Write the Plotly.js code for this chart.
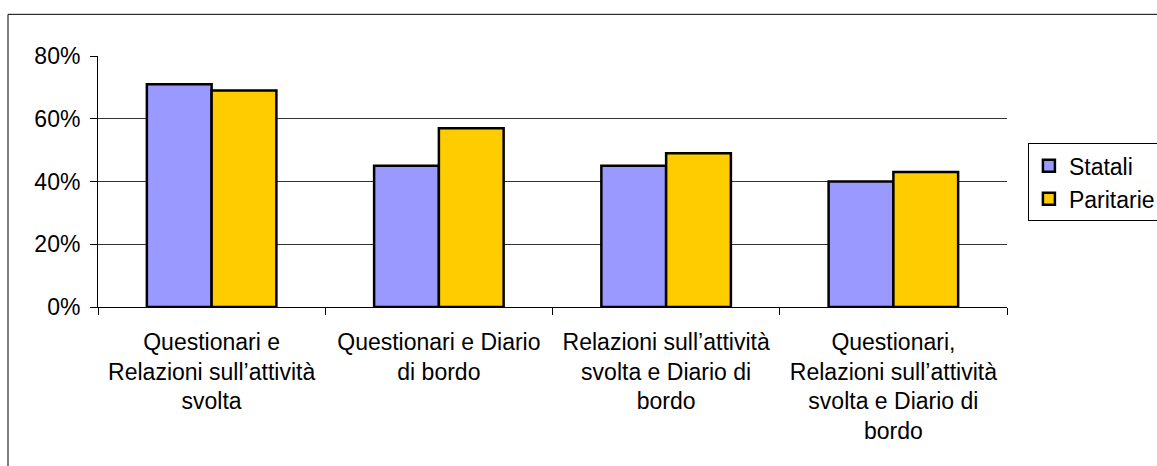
<!DOCTYPE html>
<html>
<head>
<meta charset="utf-8">
<script src="https://cdn.plot.ly/plotly-3.0.1.min.js"></script>
<style>
  html, body { margin: 0; padding: 0; background: #ffffff; }
  #chart { width: 1157px; height: 466px; }
</style>
</head>
<body>
<div id="chart"></div>
<script>
const categories = [
  "Questionari e<br>Relazioni sull’attività<br>svolta",
  "Questionari e Diario<br>di bordo",
  "Relazioni sull’attività<br>svolta e Diario di<br>bordo",
  "Questionari,<br>Relazioni sull’attività<br>svolta e Diario di<br>bordo"
];
const statali = [71, 45, 45, 40];
const paritarie = [69, 57, 49, 43];
const seriesNames = ["Statali", "Paritarie"];
const yTicks = [0, 20, 40, 60, 80];

const FONT = "Liberation Sans, Arial, sans-serif";
const FS = 23;

const traces = [
  {
    type: "bar", name: seriesNames[0], x: categories, y: statali,
    legendgroup: "a",
    marker: { color: "#9999FF", line: { color: "#000000", width: 2.5 } },
    hoverinfo: "skip"
  },
  {
    type: "bar", name: seriesNames[1], x: categories, y: paritarie,
    legendgroup: "b",
    marker: { color: "#FFCC00", line: { color: "#000000", width: 2.5 } },
    hoverinfo: "skip"
  }
];

const layout = {
  width: 1157, height: 466,
  margin: { l: 98, r: 150, t: 56, b: 159, autoexpand: false },
  paper_bgcolor: "#ffffff",
  plot_bgcolor: "#ffffff",
  font: { family: FONT, size: FS, color: "#000000" },
  barmode: "group",
  bargap: 0.43,
  bargroupgap: 0,
  showlegend: true,
  legend: {
    x: 1.023, y: 0.652, xanchor: "left", yanchor: "top",
    bordercolor: "#000000", borderwidth: 1, bgcolor: "#ffffff",
    font: { family: FONT, size: FS, color: "#000000" },
    tracegroupgap: 7, traceorder: "normal",
    itemwidth: 30
  },
  xaxis: {
    type: "category",
    showline: true, linecolor: "#000000", linewidth: 1,
    ticks: "outside", ticklen: 7, tickcolor: "#000000", tickwidth: 1,
    tickson: "boundaries",
    showgrid: false, zeroline: false,
    tickfont: { family: FONT, size: FS, color: "#000000" },
    ticklabelstandoff: 14,
    fixedrange: true
  },
  yaxis: {
    range: [0, 80],
    tickvals: yTicks,
    ticktext: yTicks.map(v => v + "%"),
    showline: true, linecolor: "#000000", linewidth: 1,
    ticks: "outside", ticklen: 7, tickcolor: "#000000", tickwidth: 1,
    showgrid: true, gridcolor: "#333333", gridwidth: 1,
    zeroline: false,
    tickfont: { family: FONT, size: FS, color: "#000000" },
    ticklabelstandoff: 5,
    fixedrange: true
  },
  shapes: [
    { type: "line", xref: "paper", yref: "paper", x0: -0.099, x1: -0.099, y0: 1.166, y1: -0.8,
      line: { color: "#000000", width: 1 } },
    { type: "line", xref: "paper", yref: "paper", x0: -0.099, x1: 1.3, y0: 1.166, y1: 1.166,
      line: { color: "#000000", width: 1 } }
  ]
};

Plotly.newPlot("chart", traces, layout, { staticPlot: true, displayModeBar: false });
</script>
</body>
</html>
